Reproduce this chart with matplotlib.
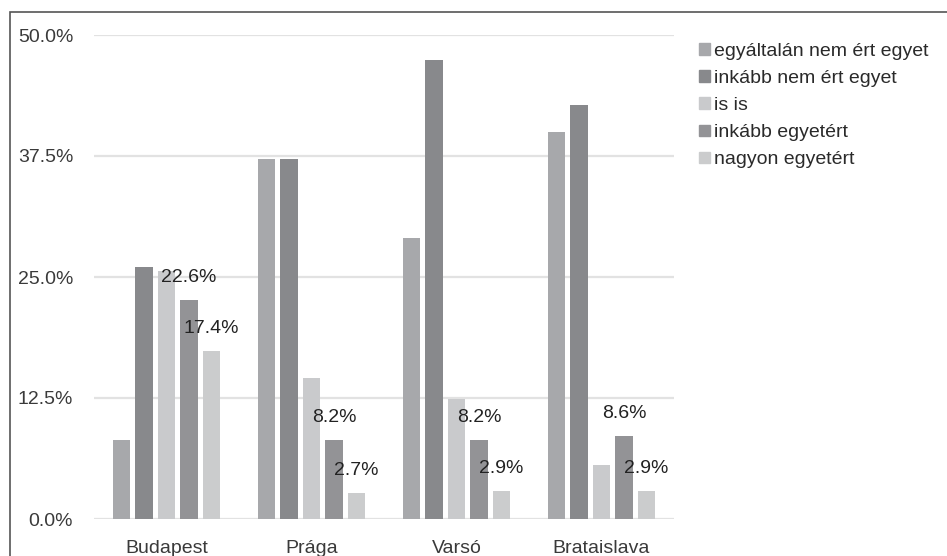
import matplotlib.pyplot as plt
import matplotlib.patches as mpatches
import numpy as np

plt.rcParams['font.family'] = ['Liberation Sans', 'DejaVu Sans']

cities = ["Budapest", "Prága", "Varsó", "Brataislava"]
answers = ["egyáltalán nem ért egyet", "inkább nem ért egyet", "is is",
           "inkább egyetért", "nagyon egyetért"]
colors = ["#a7a8ab", "#88898c", "#c9cacc", "#939396", "#cbcccd"]

# percentages, one list per answer (order of cities above)
v_nem = [8.2, 37.2, 29.0, 40.0]
v_inkabb_nem = [26.0, 37.2, 47.4, 42.8]
v_isis = [25.6, 14.6, 12.4, 5.6]
v_inkabb_egyet = [22.6, 8.2, 8.2, 8.6]
v_nagyon = [17.4, 2.7, 2.9, 2.9]
series = [v_nem, v_inkabb_nem, v_isis, v_inkabb_egyet, v_nagyon]

# only the last two series carry value labels in the original
labelled = [3, 4]

fig = plt.figure(figsize=(9.47, 5.56), dpi=100)
ax = fig.add_axes([94/947, 1-519/556, (674-94)/947, (519-35)/556])

x = np.arange(len(cities))
step = 0.155
width = 0.122
handles = []
for i, vals in enumerate(series):
    pos = x + (i - 2) * step
    b = ax.bar(pos, vals, width, color=colors[i], zorder=2)
    handles.append(mpatches.Patch(color=colors[i], label=answers[i]))
    if i in labelled:
        for px, v in zip(pos, vals):
            ax.annotate("%.1f%%" % v, (px, v), xytext=(0, 10),
                        textcoords="offset points", ha="center", va="bottom",
                        fontsize=14, color="#222222", zorder=3)

ax.set_xlim(-0.5, 3.5)
ax.set_ylim(0, 50)
ax.set_yticks([0, 12.5, 25, 37.5, 50])
ax.set_yticklabels(["0.0%", "12.5%", "25.0%", "37.5%", "50.0%"])
ax.set_xticks(x)
ax.set_xticklabels(cities)
ax.tick_params(axis="both", length=0, labelsize=14, labelcolor="#3a3a3a")
ax.tick_params(axis="y", pad=15)
ax.tick_params(axis="x", pad=15)
ax.yaxis.grid(True, color="#e2e2e2", linewidth=1.6, zorder=0)
ax.set_axisbelow(True)
for s in ax.spines.values():
    s.set_visible(False)

fig.legend(handles=handles, loc="upper left", bbox_to_anchor=(699/947, 1-43/556),
           frameon=False, fontsize=14, handlelength=0.55, handleheight=0.55,
           handletextpad=0.2, labelspacing=0.52, borderaxespad=0, borderpad=0,
           labelcolor="#2a2a2a")

# outer frame of the picture (cut off at the right and bottom)
frame = mpatches.Rectangle((10/947, -0.1), 1.1, 1-12/556+0.1, transform=fig.transFigure,
                           fill=False, edgecolor="#555555", linewidth=1.2)
fig.patches.append(frame)

fig.savefig("out.png", dpi=100)
